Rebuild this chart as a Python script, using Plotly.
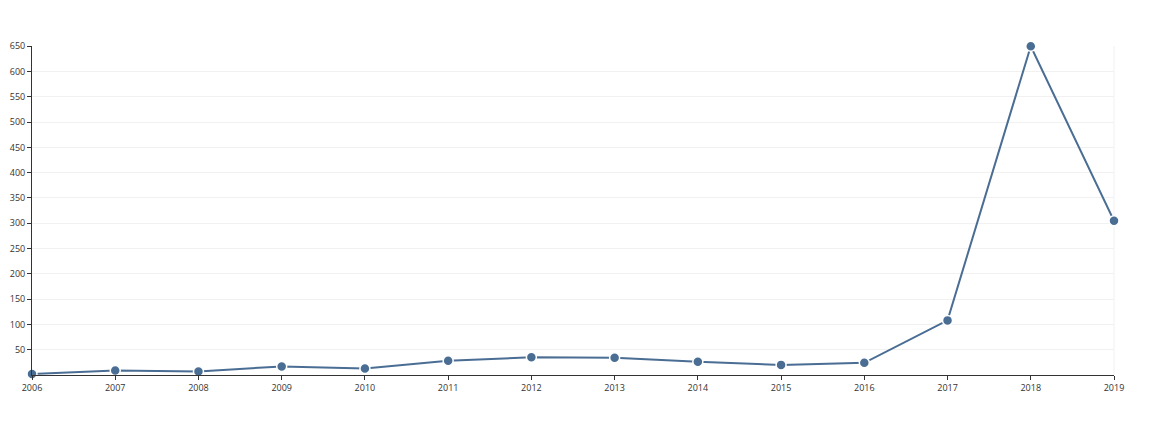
import plotly.graph_objects as go

years = [2006, 2007, 2008, 2009, 2010, 2011, 2012, 2013, 2014, 2015, 2016, 2017, 2018, 2019]
counts = [2, 9, 7, 17, 13, 28, 35, 34, 26, 20, 24, 108, 650, 305]
y_ticks = [50, 100, 150, 200, 250, 300, 350, 400, 450, 500, 550, 600, 650]

line_color = "#4a6d94"
grid_color = "#f1f1f1"

fig = go.Figure()
fig.add_trace(go.Scatter(
    x=years, y=counts,
    mode="lines+markers",
    line=dict(color=line_color, width=2),
    marker=dict(color=line_color, size=10, line=dict(color="white", width=1.5)),
    cliponaxis=False,
    hoverinfo="x+y",
))

fig.update_layout(
    width=1152, height=422,
    margin=dict(l=24, r=46, t=38, b=55),
    plot_bgcolor="white",
    paper_bgcolor="white",
    showlegend=False,
    font=dict(family="Open Sans, sans-serif", size=9, color="#333"),
)
fig.update_xaxes(
    range=[2006, 2019],
    tickvals=years,
    showgrid=False,
    zeroline=False,
    automargin=False,
    showline=True, linecolor="#333", linewidth=1,
    ticks="outside", ticklen=4, tickcolor="#333",
)
fig.update_yaxes(
    range=[0, 650.5],
    tickvals=y_ticks,
    showgrid=True, gridcolor=grid_color,
    zeroline=False,
    automargin=False,
    showline=True, linecolor="#333", linewidth=1,
    ticks="outside", ticklen=4, tickcolor="#333",
)
# faint frame at right edge
fig.add_shape(type="line", xref="paper", yref="paper", x0=1, x1=1, y0=0, y1=1,
              line=dict(color=grid_color, width=1), layer="below")

fig.write_html("out.html")
